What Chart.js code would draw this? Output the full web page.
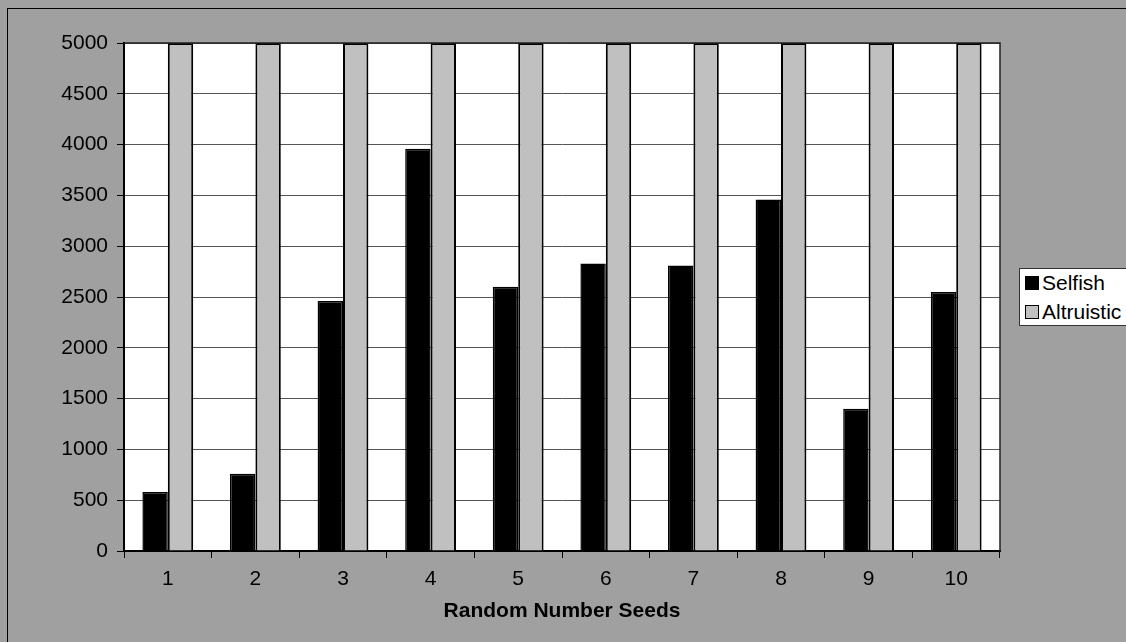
<!DOCTYPE html>
<html>
<head>
<meta charset="utf-8">
<script src="https://cdn.jsdelivr.net/npm/chart.js@4.4.0/dist/chart.umd.min.js"></script>
<style>
    html, body { margin: 0; padding: 0; background: #a0a0a0; }
    .wrap { position: relative; width: 1126px; height: 642px; overflow: hidden; }
    .frame { position: absolute; left: 7px; top: 8px; width: 1200px; height: 700px;
             border-left: 1px solid #000; border-top: 1px solid #000; }
    canvas { position: absolute; left: 0; top: 0; }
    .legend { position: absolute; left: 1019px; top: 268px; width: 120px; height: 58px;
              background: #fff; border: 1px solid #333; box-sizing: border-box;
              font-family: "Liberation Sans", Arial, sans-serif; font-size: 21px; color: #000; }
    .legend-item { position: absolute; left: 5px; height: 26px; line-height: 26px; white-space: nowrap; }
    .legend-item span.box { display: inline-block; width: 12px; height: 12px; border: 1px solid #000;
                            vertical-align: 0px; margin-right: 3px; }
</style>
</head>
<body>
<div class="wrap">
    <div class="frame"></div>
    <canvas id="seedChart" width="1126" height="642"></canvas>
    <div class="legend" id="legend"></div>
</div>
<script>
const seeds = ['1', '2', '3', '4', '5', '6', '7', '8', '9', '10'];
const selfish = [580, 760, 2460, 3960, 2600, 2830, 2810, 3460, 1400, 2550];
const altruistic = [5000, 5000, 5000, 5000, 5000, 5000, 5000, 5000, 5000, 5000];
const seriesNames = ['Selfish', 'Altruistic'];
const seriesColors = ['#000000', '#c0c0c0'];

const fontFamily = '"Liberation Sans", Arial, sans-serif';

// white plot area plus the top/right frame lines
const plotFrame = {
    id: 'plotFrame',
    beforeDraw(chart) {
        const a = chart.chartArea;
        const ctx = chart.ctx;
        ctx.save();
        ctx.fillStyle = '#ffffff';
        ctx.fillRect(a.left, a.top, a.right - a.left, a.bottom - a.top);
        ctx.restore();
    },
    afterDraw(chart) {
        const a = chart.chartArea;
        const ctx = chart.ctx;
        ctx.save();
        ctx.strokeStyle = '#222';
        ctx.lineWidth = 1.5;
        ctx.beginPath();
        ctx.moveTo(a.left, a.top);
        ctx.lineTo(a.right, a.top);
        ctx.lineTo(a.right, a.bottom);
        ctx.stroke();
        ctx.restore();
    }
};

const ctx = document.getElementById('seedChart');

new Chart(ctx, {
    type: 'bar',
    data: {
        labels: seeds,
        datasets: [{
            label: seriesNames[0],
            data: selfish,
            backgroundColor: seriesColors[0],
            borderColor: '#000',
            borderWidth: 1.5
        }, {
            label: seriesNames[1],
            data: altruistic,
            backgroundColor: seriesColors[1],
            borderColor: '#000',
            borderWidth: 2
        }]
    },
    options: {
        responsive: false,
        animation: false,
        layout: {
            padding: { left: 0, top: 43, right: 126, bottom: 18 }
        },
        datasets: {
            bar: {
                categoryPercentage: 0.58,
                barPercentage: 1.0
            }
        },
        plugins: {
            legend: { display: false },
            tooltip: { enabled: false }
        },
        scales: {
            x: {
                offset: true,
                afterFit(scale) { scale.height = 73; },
                grid: {
                    offset: true,
                    drawOnChartArea: false,
                    drawTicks: true,
                    tickLength: 7,
                    tickColor: '#000',
                    tickWidth: 1
                },
                border: { display: true, color: '#000', width: 2 },
                ticks: {
                    color: '#000',
                    padding: 9,
                    font: { family: fontFamily, size: 21 }
                },
                title: {
                    display: true,
                    text: 'Random Number Seeds',
                    color: '#000',
                    padding: { top: 4, bottom: 0 },
                    font: { family: fontFamily, size: 21, weight: 'bold' }
                }
            },
            y: {
                min: 0,
                max: 5000,
                afterFit(scale) { scale.width = 124; },
                grid: {
                    color: '#555',
                    lineWidth: 1,
                    drawTicks: true,
                    tickLength: 7,
                    tickColor: '#000'
                },
                border: { display: true, color: '#000', width: 2 },
                ticks: {
                    stepSize: 500,
                    color: '#000',
                    padding: 9,
                    font: { family: fontFamily, size: 21 },
                    callback: function(value) { return String(value); }
                }
            }
        }
    },
    plugins: [plotFrame]
});

// legend built from the series arrays
const legend = document.getElementById('legend');
seriesNames.forEach(function(name, i) {
    const item = document.createElement('div');
    item.className = 'legend-item';
    item.style.top = (1 + i * 29) + 'px';
    const box = document.createElement('span');
    box.className = 'box';
    box.style.background = seriesColors[i];
    item.appendChild(box);
    item.appendChild(document.createTextNode(name));
    legend.appendChild(item);
});
</script>
</body>
</html>
